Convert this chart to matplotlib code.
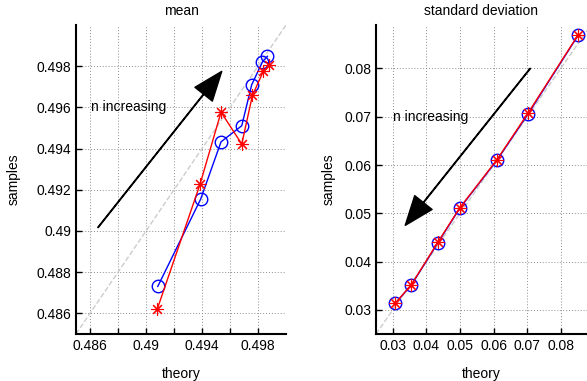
import numpy as np
import matplotlib.pyplot as plt
from matplotlib.ticker import FixedLocator

plt.rcParams['font.family'] = ['Liberation Sans', 'DejaVu Sans']
plt.rcParams['font.size'] = 10

# mean panel: (theory, samples)
mean_theory_blue = [0.49084, 0.49390, 0.49536, 0.49684, 0.49755, 0.49831, 0.49867]
mean_samp_blue = [0.48731, 0.49154, 0.49433, 0.49511, 0.49710, 0.49820, 0.49848]
mean_theory_red = [0.49081, 0.49386, 0.49536, 0.49684, 0.49760, 0.49838, 0.49879]
mean_samp_red = [0.48622, 0.49227, 0.49577, 0.49422, 0.49658, 0.49775, 0.49804]

# standard deviation panel
sd_theory_blue = [0.03079, 0.03550, 0.04340, 0.04990, 0.06100, 0.07020, 0.08520]
sd_samp_blue = [0.03141, 0.03510, 0.04387, 0.05100, 0.06100, 0.07050, 0.08690]
sd_theory_red = [0.03079, 0.03550, 0.04340, 0.04990, 0.06100, 0.07020, 0.08520]
sd_samp_red = [0.03141, 0.03520, 0.04400, 0.05110, 0.06110, 0.07070, 0.08700]

mean_xticks = [0.486, 0.49, 0.494, 0.498]
mean_yticks = [0.486, 0.488, 0.49, 0.492, 0.494, 0.496, 0.498]
sd_ticks = [0.03, 0.04, 0.05, 0.06, 0.07, 0.08]

star = (8, 2, 0)


def style_axes(ax, ylab_x):
    for side in ["top", "right"]:
        ax.spines[side].set_visible(False)
    for side in ["left", "bottom"]:
        ax.spines[side].set_linewidth(1.5)
    ax.tick_params(direction="in", which="both", length=4, width=1, labelsize=10)
    ax.grid(True, which="both", linestyle=(0, (1, 2)), color="0.55", linewidth=0.7)
    ax.set_axisbelow(True)
    ax.set_xlabel("theory", labelpad=10)
    ax.set_ylabel("samples")
    ax.yaxis.set_label_coords(ylab_x, 0.5)


fig = plt.figure(figsize=(5.87, 3.81), dpi=100)

# ---- mean ----
ax1 = fig.add_axes([76/587, 1-334/381, 210/587, 309/381])
lim1 = (0.485, 0.5)
ax1.plot(lim1, lim1, "--", color="0.8", linewidth=1)
ax1.plot(mean_theory_blue, mean_samp_blue, "-o", color="blue", mfc="none",
         ms=9, mew=1, linewidth=1)
ax1.plot(mean_theory_red, mean_samp_red, "-", marker=star, color="red",
         ms=9, mew=0.8, linewidth=1)
ax1.annotate("", xy=(0.49541, 0.49775), xytext=(0.48657, 0.49017),
             arrowprops=dict(facecolor="black", edgecolor="black", width=0.4,
                             headwidth=16, headlength=21, shrink=0))
ax1.text(0.48605, 0.496, "n increasing", va="center", ha="left")
ax1.set_xlim(lim1)
ax1.set_ylim(lim1)
ax1.xaxis.set_major_locator(FixedLocator(mean_xticks))
ax1.xaxis.set_minor_locator(FixedLocator([0.488, 0.492, 0.496]))
ax1.set_xticklabels([f"{t:g}" for t in mean_xticks])
ax1.yaxis.set_major_locator(FixedLocator(mean_yticks))
ax1.set_yticklabels([f"{t:g}" for t in mean_yticks])
ax1.set_title("mean", fontsize=10, pad=7)
style_axes(ax1, -0.262)

# ---- standard deviation ----
ax2 = fig.add_axes([376/587, 1-334/381, 211/587, 309/381])
ax2.plot((0.025, 0.09), (0.025, 0.09), "--", color="0.8", linewidth=1)
ax2.plot(sd_theory_blue, sd_samp_blue, "-o", color="blue", mfc="none",
         ms=9, mew=1, linewidth=1)
ax2.plot(sd_theory_red, sd_samp_red, "-", marker=star, color="red",
         ms=9, mew=0.8, linewidth=1)
ax2.annotate("", xy=(0.0337, 0.0475), xytext=(0.0709, 0.080),
             arrowprops=dict(facecolor="black", edgecolor="black", width=0.4,
                             headwidth=16, headlength=21, shrink=0))
ax2.text(0.0301, 0.070, "n increasing", va="center", ha="left")
ax2.set_xlim(0.025, 0.0878)
ax2.set_ylim(0.025, 0.089)
ax2.xaxis.set_major_locator(FixedLocator(sd_ticks))
ax2.set_xticklabels([f"{t:g}" for t in sd_ticks])
ax2.yaxis.set_major_locator(FixedLocator(sd_ticks))
ax2.set_yticklabels([f"{t:g}" for t in sd_ticks])
ax2.set_title("standard deviation", fontsize=10, pad=7)
style_axes(ax2, -0.19)

fig.savefig("out.png", dpi=100)
